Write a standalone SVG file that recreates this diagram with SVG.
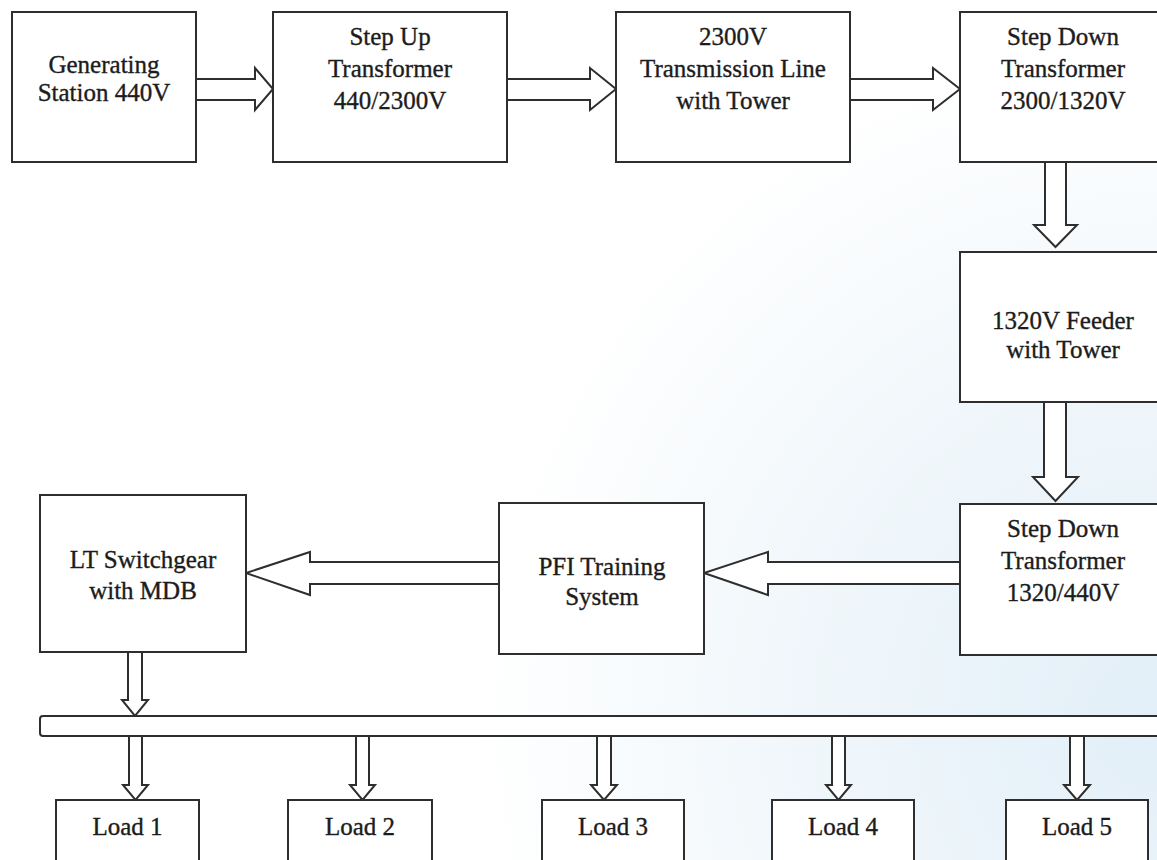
<svg xmlns="http://www.w3.org/2000/svg" width="1157" height="860" viewBox="0 0 1157 860">
  <defs>
    <radialGradient id="bg" gradientUnits="userSpaceOnUse" cx="1157" cy="720" r="680">
      <stop offset="0" stop-color="#e2eff8"/>
      <stop offset="0.55" stop-color="#f1f7fb"/>
      <stop offset="1" stop-color="#ffffff"/>
    </radialGradient>
  </defs>
  <style>
    .box { fill: #ffffff; stroke: #2e2e2e; stroke-width: 2; }
    .arrow { fill: #ffffff; stroke: #2e2e2e; stroke-width: 2; stroke-linejoin: miter; }
    .lbl { font-family: "Liberation Serif", "Times New Roman", serif; font-size: 25px; fill: #1c1c1c; stroke: #1c1c1c; stroke-width: 0.35; text-anchor: middle; }
  </style>
  <rect x="0" y="0" width="1157" height="860" fill="url(#bg)"/>

  <g id="connectors">
    <path class="arrow" d="M196,79 H255 V68 L273,89 L255,110 V100 H196"/>
    <path class="arrow" d="M507,79 H590 V68 L616,89 L590,110 V100 H507"/>
    <path class="arrow" d="M850,79 H933 V68 L960,89 L933,110 V100 H850"/>
    <path class="arrow" d="M1045,162 V225 H1034 L1055.5,247 L1077,225 H1066 V162"/>
    <path class="arrow" d="M1044,402 V477 H1033 L1055.5,501 L1078,477 H1066 V402"/>
    <path class="arrow" d="M960,562 H768 V552 L704,573 L768,595 V584 H960"/>
    <path class="arrow" d="M499,562 H310 V552 L246,573 L310,595 V584 H499"/>
    <path class="arrow" d="M128,652 V700 H122 L135,716 L148,700 H142 V652"/>
    <path class="arrow" d="M129,736 V785 H123 L135.5,800 L148,785 H142 V736"/>
    <path class="arrow" d="M356,736 V785 H350 L362.5,800 L375,785 H369 V736"/>
    <path class="arrow" d="M597,736 V785 H591 L604,800 L617,785 H611 V736"/>
    <path class="arrow" d="M832,736 V785 H826 L838.5,800 L851,785 H845 V736"/>
    <path class="arrow" d="M1070,736 V785 H1064 L1077,800 L1090,785 H1084 V736"/>
  </g>

  <g id="bus">
    <rect class="box" x="40" y="716" width="1140" height="20" rx="3"/>
  </g>

  <g id="gen-station">
    <rect class="box" x="12" y="12" width="184" height="150"/>
    <text class="lbl" x="104" y="73">Generating</text>
    <text class="lbl" x="104" y="101">Station 440V</text>
  </g>
  <g id="step-up">
    <rect class="box" x="273" y="12" width="234" height="150"/>
    <text class="lbl" x="390" y="45">Step Up</text>
    <text class="lbl" x="390" y="77">Transformer</text>
    <text class="lbl" x="390" y="109">440/2300V</text>
  </g>
  <g id="transmission">
    <rect class="box" x="616" y="12" width="234" height="150"/>
    <text class="lbl" x="733" y="45">2300V</text>
    <text class="lbl" x="733" y="77">Transmission Line</text>
    <text class="lbl" x="733" y="109">with Tower</text>
  </g>
  <g id="step-down-1">
    <rect class="box" x="960" y="12" width="206" height="150"/>
    <text class="lbl" x="1063" y="45">Step Down</text>
    <text class="lbl" x="1063" y="77">Transformer</text>
    <text class="lbl" x="1063" y="109">2300/1320V</text>
  </g>
  <g id="feeder">
    <rect class="box" x="960" y="252" width="206" height="150"/>
    <text class="lbl" x="1063" y="329">1320V Feeder</text>
    <text class="lbl" x="1063" y="358">with Tower</text>
  </g>
  <g id="step-down-2">
    <rect class="box" x="960" y="504" width="206" height="151"/>
    <text class="lbl" x="1063" y="537">Step Down</text>
    <text class="lbl" x="1063" y="569">Transformer</text>
    <text class="lbl" x="1063" y="601">1320/440V</text>
  </g>
  <g id="pfi">
    <rect class="box" x="499" y="503" width="205" height="151"/>
    <text class="lbl" x="602" y="575">PFI Training</text>
    <text class="lbl" x="602" y="605">System</text>
  </g>
  <g id="lt-switchgear">
    <rect class="box" x="40" y="495" width="206" height="157"/>
    <text class="lbl" x="143" y="568">LT Switchgear</text>
    <text class="lbl" x="143" y="599">with MDB</text>
  </g>

  <g id="load1">
    <rect class="box" x="56" y="800" width="143" height="80"/>
    <text class="lbl" x="127.5" y="835">Load 1</text>
  </g>
  <g id="load2">
    <rect class="box" x="288" y="800" width="144" height="80"/>
    <text class="lbl" x="360" y="835">Load 2</text>
  </g>
  <g id="load3">
    <rect class="box" x="542" y="800" width="142" height="80"/>
    <text class="lbl" x="613" y="835">Load 3</text>
  </g>
  <g id="load4">
    <rect class="box" x="772" y="800" width="142" height="80"/>
    <text class="lbl" x="843" y="835">Load 4</text>
  </g>
  <g id="load5">
    <rect class="box" x="1006" y="800" width="142" height="80"/>
    <text class="lbl" x="1077" y="835">Load 5</text>
  </g>
</svg>
